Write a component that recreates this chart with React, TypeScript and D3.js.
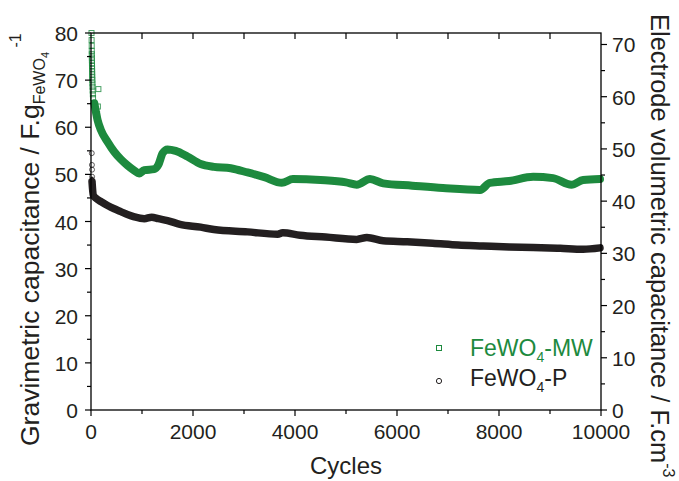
import React from 'react';
import * as d3 from 'd3';

// ---- Data ----
const mwCycles = [65, 130, 195, 325, 455, 585, 715, 850, 945, 1045, 1240, 1320, 1405, 1500, 1660, 1890, 2150, 2410, 2740, 3070, 3400, 3740, 3960, 4500, 5000, 5210, 5470, 5730, 6300, 6900, 7630, 7820, 8200, 8670, 9060, 9420, 9650, 9980];
const mwCap = [65.1, 61.5, 59.4, 56.9, 54.8, 53.2, 51.9, 50.8, 50.2, 50.9, 51.1, 52.0, 54.5, 55.3, 55.0, 53.8, 52.2, 51.6, 51.3, 50.4, 49.4, 48.2, 49.0, 48.8, 48.3, 47.8, 49.0, 48.1, 47.6, 47.1, 46.7, 48.2, 48.6, 49.5, 49.2, 47.8, 48.8, 49.0];

const mwEarlyCycles = [10, 12, 14, 15, 16, 17, 18, 19, 20, 21, 22, 23, 24, 26, 28, 30, 33, 36, 40, 145, 135, 120];
const mwEarlyCap = [80, 78.5, 77.3, 76.2, 75.5, 74.8, 74.2, 73.6, 73, 72.4, 71.8, 71.2, 70.6, 70, 69.3, 68.6, 67.8, 67, 66.2, 68.1, 64.4, 62.8];

const pCycles = [20, 45, 100, 200, 325, 455, 585, 715, 850, 1045, 1190, 1320, 1500, 1745, 2150, 2410, 3070, 3660, 3760, 4100, 4600, 5210, 5410, 5730, 6200, 6700, 7200, 7690, 8200, 8670, 9200, 9650, 9980];
const pCap = [48.5, 45.6, 44.9, 44.2, 43.4, 42.7, 42.1, 41.5, 41.0, 40.6, 40.9, 40.6, 40.2, 39.4, 38.8, 38.3, 37.8, 37.3, 37.6, 37.1, 36.7, 36.2, 36.6, 35.9, 35.7, 35.4, 35.0, 34.8, 34.6, 34.5, 34.3, 34.1, 34.4];

const pEarlyCycles = [15, 18, 20, 22, 25, 28, 32];
const pEarlyCap = [54.5, 52, 51, 49.5, 48.4, 47.5, 46.5];

const xTicks = [0, 2000, 4000, 6000, 8000, 10000];
const xMinor = [1000, 3000, 5000, 7000, 9000];
const xTop = [1000, 2000, 3000, 4000, 5000, 6000, 7000, 8000, 9000];
const yLeftTicks = [0, 10, 20, 30, 40, 50, 60, 70, 80];
const yLeftMinor = [5, 15, 25, 35, 45, 55, 65, 75];
const yRightTicks = [0, 10, 20, 30, 40, 50, 60, 70];
const yRightMinor = [5, 15, 25, 35, 45, 55, 65];

const GREEN = '#1d8a3e';
const BLACK = '#231f20';
const FONT = 'Liberation Sans, Arial, sans-serif';

export default function App() {
  const W = 679, H = 481;
  const L = 91, R = 601, T = 33, B = 410;
  const x = d3.scaleLinear().domain([0, 10000]).range([L, R]);
  const yL = d3.scaleLinear().domain([0, 80]).range([B, T]);
  const yR = d3.scaleLinear().domain([0, 72.2]).range([B, T]);

  const line = d3.line<[number, number]>()
    .x(d => x(d[0]))
    .y(d => yL(d[1]))
    .curve(d3.curveMonotoneX);

  const mwPts = mwCycles.map((c, i) => [c, mwCap[i]] as [number, number]);
  const pPts = pCycles.map((c, i) => [c, pCap[i]] as [number, number]);

  return (
    <svg width={W} height={H} style={{ position: 'absolute', left: 0, top: 0, background: '#fff' }} fontFamily={FONT}>
      {/* series */}
      <path d={line(pPts) || ''} fill="none" stroke={BLACK} strokeWidth={7.5} strokeLinejoin="round" strokeLinecap="round" />
      <path d={line(mwPts) || ''} fill="none" stroke={GREEN} strokeWidth={8} strokeLinejoin="round" strokeLinecap="round" />
      {mwEarlyCycles.map((c, i) => (
        <rect key={'me' + i} x={x(c) - 2.5} y={yL(mwEarlyCap[i]) - 2.5} width={5} height={5} fill="none" stroke={GREEN} strokeWidth={1} opacity={0.8} />
      ))}
      {pEarlyCycles.map((c, i) => (
        <circle key={'pe' + i} cx={x(c)} cy={yL(pEarlyCap[i])} r={2.5} fill="none" stroke={BLACK} strokeWidth={0.9} opacity={0.8} />
      ))}
      <line x1={x(20)} x2={x(20)} y1={yL(49.5)} y2={yL(45.5)} stroke={BLACK} strokeWidth={3} />

      {/* frame */}
      <rect x={L} y={T} width={R - L} height={B - T} fill="none" stroke="#000" strokeWidth={1.3} />

      {/* bottom axis */}
      {xTicks.map(t => (
        <g key={'xt' + t}>
          <line x1={x(t)} x2={x(t)} y1={B} y2={B + 6} stroke="#000" strokeWidth={1.2} />
          <text x={x(t)} y={439} textAnchor="middle" fontSize={21} fill={BLACK}>{t}</text>
        </g>
      ))}
      {xMinor.map(t => (
        <line key={'xm' + t} x1={x(t)} x2={x(t)} y1={B} y2={B + 4} stroke="#000" strokeWidth={1.2} />
      ))}
      {xTop.map(t => (
        <line key={'xtop' + t} x1={x(t)} x2={x(t)} y1={T} y2={T + 6} stroke="#000" strokeWidth={1.2} />
      ))}

      {/* left axis */}
      {yLeftTicks.map(t => (
        <g key={'yl' + t}>
          <line x1={L - 6} x2={L} y1={yL(t)} y2={yL(t)} stroke="#000" strokeWidth={1.2} />
          <text x={78} y={yL(t) + 8} textAnchor="end" fontSize={21} fill={BLACK}>{t}</text>
        </g>
      ))}
      {yLeftMinor.map(t => (
        <line key={'ylm' + t} x1={L - 4} x2={L} y1={yL(t)} y2={yL(t)} stroke="#000" strokeWidth={1.2} />
      ))}

      {/* right axis */}
      {yRightTicks.map(t => (
        <g key={'yr' + t}>
          <line x1={R} x2={R + 6} y1={yR(t)} y2={yR(t)} stroke="#000" strokeWidth={1.2} />
          <text x={612} y={yR(t) + 8} textAnchor="start" fontSize={21} fill={BLACK}>{t}</text>
        </g>
      ))}
      {yRightMinor.map(t => (
        <line key={'yrm' + t} x1={R} x2={R + 4} y1={yR(t)} y2={yR(t)} stroke="#000" strokeWidth={1.2} />
      ))}

      {/* axis titles */}
      <text x={346} y={474} textAnchor="middle" fontSize={24} fill={BLACK}>Cycles</text>
      <text transform="translate(39,446) rotate(-90)" fontSize={26.5} fill={BLACK}>
        Gravimetric capacitance / F.g
        <tspan fontSize={16} dy={6}>FeWO</tspan>
        <tspan fontSize={11} dy={4}>4</tspan>
        <tspan fontSize={16} dy={-28}> -1</tspan>
      </text>
      <text transform="translate(651,14) rotate(90)" fontSize={25.5} fill={BLACK}>
        Electrode volumetric capacitance / F.cm
        <tspan fontSize={16} dy={-12}>-3</tspan>
      </text>

      {/* legend */}
      <rect x={436.5} y={345.5} width={5} height={5} fill="none" stroke={GREEN} strokeWidth={1} />
      <text x={470} y={356} fontSize={23} fill={GREEN}>
        FeWO<tspan fontSize={14} dy={6}>4</tspan><tspan dy={-6}>-MW</tspan>
      </text>
      <circle cx={439} cy={381} r={2.6} fill="none" stroke={BLACK} strokeWidth={1} />
      <text x={470} y={386} fontSize={23} fill={BLACK}>
        FeWO<tspan fontSize={14} dy={6}>4</tspan><tspan dy={-6}>-P</tspan>
      </text>
    </svg>
  );
}
